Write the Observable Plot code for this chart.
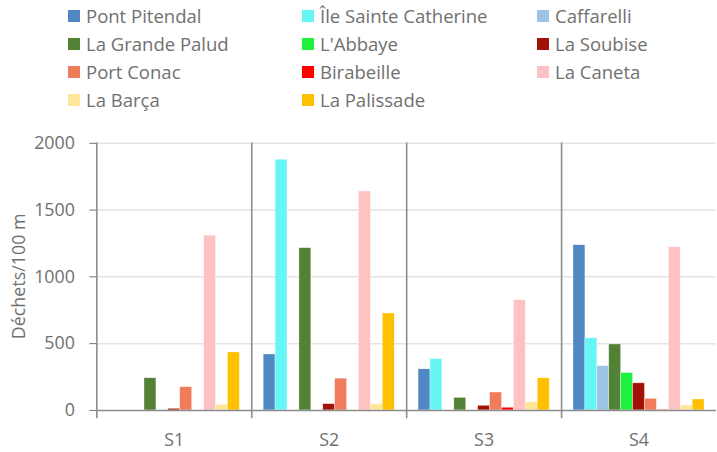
<!DOCTYPE html>
<html>
<head>
<meta charset="utf-8">
<script src="https://cdn.jsdelivr.net/npm/d3@7"></script>
<script src="https://cdn.jsdelivr.net/npm/@observablehq/plot@0.6"></script>
<style>
  html, body { margin: 0; padding: 0; background: #fff; overflow: hidden; }
  body { width: 717px; height: 452px; font-family: "Open Sans", sans-serif; }
  #legend { position: relative; height: 115px; }
  .item { position: absolute; display: flex; align-items: center; font-size: 18.5px; color: #707070; white-space: nowrap; line-height: 24px; }
  .sw { width: 12px; height: 12px; margin-right: 6px; }
</style>
</head>
<body>
<div id="legend"></div>
<div id="chart"></div>
<script>
const groups = ["S1", "S2", "S3", "S4"];
const series = ["Pont Pitendal", "Île Sainte Catherine", "Caffarelli", "La Grande Palud", "L'Abbaye", "La Soubise", "Port Conac", "Birabeille", "La Caneta", "La Barça", "La Palissade"];
const colors = ["#4f88c2", "#66f6f6", "#9dc3e6", "#538135", "#1ff03e", "#a31206", "#f07c5c", "#ff0000", "#ffc2c2", "#ffe699", "#ffc000"];
const s1Values = [0, 0, 0, 241, 0, 12, 174, 0, 1309, 42, 434];
const s2Values = [419, 1877, 0, 1215, 0, 47, 238, 0, 1639, 47, 726];
const s3Values = [308, 384, 0, 94, 0, 35, 134, 20, 825, 62, 241];
const s4Values = [1237, 540, 332, 494, 280, 203, 87, 4, 1222, 37, 82];
const yTicks = [0, 500, 1000, 1500, 2000];
const yLabel = "Déchets/100 m";

const allValues = [s1Values, s2Values, s3Values, s4Values];
const data = groups.flatMap((g, gi) => series.map((s, si) => ({group: g, series: s, value: allValues[gi][si]})));

// legend (3 columns)
const legend = document.getElementById("legend");
series.forEach((s, i) => {
  const col = i % 3, row = Math.floor(i / 3);
  const el = document.createElement("div");
  el.className = "item";
  el.style.left = [68, 302, 537][col] + "px";
  el.style.top = (4 + row * 28) + "px";
  el.innerHTML = `<span class="sw" style="background:${colors[i]}"></span><span>${s}</span>`;
  legend.appendChild(el);
});

const chart = Plot.plot({
  width: 722,
  height: 337,
  marginLeft: 96,
  marginRight: 0,
  marginTop: 28,
  marginBottom: 40,
  style: {fontFamily: "Open Sans, sans-serif", fontSize: "18px", color: "#707070", background: "#fff", overflow: "visible"},
  fx: {domain: groups, padding: 0, label: null, tickSize: 0, tickPadding: 23},
  x: {domain: series, axis: null, paddingInner: 0, paddingOuter: 0.8},
  y: {domain: [0, 2000], ticks: yTicks, tickFormat: d => String(d), tickSize: 7, tickPadding: 15, label: null},
  color: {domain: series, range: colors},
  marks: [
    Plot.gridY([500, 1000, 1500, 2000], {stroke: "#e3e3e3", strokeOpacity: 1, strokeWidth: 1.5}),
    Plot.barY(data, {fx: "group", x: "series", y: "value", fill: "series", stroke: "#fff", strokeWidth: 0.6, strokeOpacity: 0.6}),
    Plot.ruleY([0], {stroke: "#8c8c8c", strokeWidth: 1.6}),
    Plot.frame({anchor: "left", stroke: "#8c8c8c", strokeWidth: 1.6, insetBottom: -7})
  ]
});
document.getElementById("chart").appendChild(chart);

// y-axis title, positioned with the y scale
const ys = chart.scale("y");
const svg = d3.select(chart);
svg.append("text")
  .attr("transform", `translate(18,${(ys.apply(0) + ys.apply(2000)) / 2}) rotate(-90)`)
  .attr("text-anchor", "middle")
  .attr("dominant-baseline", "central")
  .attr("fill", "#707070")
  .style("font-size", "18px")
  .text(yLabel);
</script>
</body>
</html>
